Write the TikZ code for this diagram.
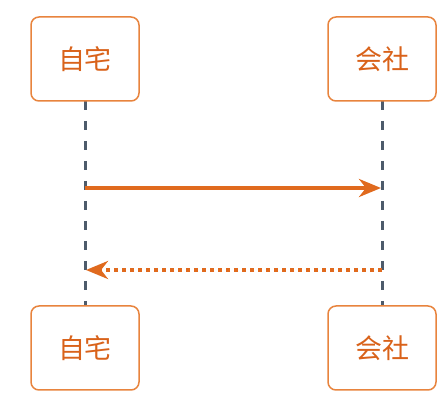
\documentclass[tikz,border=0pt]{standalone}
\usepackage{fontspec}
\newfontfamily\cjk{Noto Sans CJK SC}
\usetikzlibrary{arrows.meta}
\definecolor{boxc}{HTML}{E8843E}
\definecolor{txtc}{HTML}{D9621A}
\definecolor{arrc}{HTML}{E06A1E}
\definecolor{lifec}{HTML}{4D5B6B}
\tikzset{
  actor/.style={draw=boxc, line width=1.5pt, rounded corners=8pt, fill=white,
    minimum width=108pt, minimum height=84pt, inner sep=0pt,
    text=txtc, font=\cjk\fontsize{27pt}{30pt}\selectfont},
  lifeline/.style={draw=lifec, line width=3pt, dash pattern=on 9pt off 11pt},
  msgsolid/.style={draw=arrc, line width=4.5pt, -{Stealth[length=22pt,width=18pt,inset=7pt]}},
  msgdot/.style={draw=arrc, line width=4.5pt, dash pattern=on 4pt off 4pt, -{Stealth[length=22pt,width=18pt,inset=7pt]}},
}
\begin{document}
\begin{tikzpicture}[x=1pt,y=-1pt]
\useasboundingbox (0,0) rectangle (448,406);
\coordinate (lt) at (85,101);
\coordinate (lb) at (85,306);
\coordinate (rt) at (382,101);
\coordinate (rb) at (382,306);
\draw[lifeline] (lt) -- (lb);
\draw[lifeline] (rt) -- (rb);
\node[actor] (home1) at (85,59) {自宅};
\node[actor] (work1) at (382,59) {会社};
\node[actor] (home2) at (85,348) {自宅};
\node[actor] (work2) at (382,348) {会社};
\coordinate (a1) at (85,188);
\coordinate (a2) at (381,188);
\coordinate (b1) at (382,270);
\coordinate (b2) at (86,270);
\draw[msgsolid] (a1) -- (a2);
\draw[msgdot] (b1) -- (b2);
\end{tikzpicture}
\end{document}
